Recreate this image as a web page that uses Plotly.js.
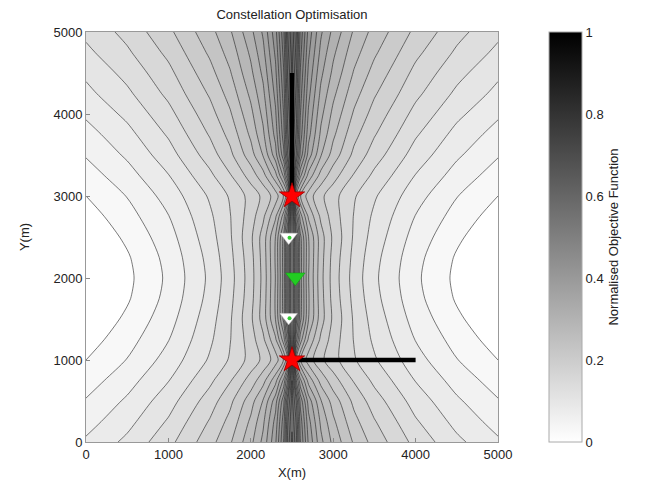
<!DOCTYPE html>
<html><head><meta charset="utf-8">
<script src="https://cdn.plot.ly/plotly-3.0.1.min.js"></script>
<style>html,body{margin:0;padding:0;background:#fff}</style>
</head><body><div id="chart" style="width:652px;height:488px"></div>
<script>
// Grid (metres)
const xGrid = [0,500,1000,1500,1750,2000,2150,2300,2400,2450,2500,2550,2600,2700,2850,3000,3250,3500,4000,4500,5000];
const yGrid = [0,250,500,750,1000,1250,1500,1750,2000,2250,2500,2750,3000,3250,3500,3750,4000,4250,4500,4750,5000];
// Normalised objective function, one row per yGrid value
const objective = [
 [0.079,0.106,0.142,0.190,0.222,0.268,0.307,0.371,0.452,0.536,0.58,0.536,0.452,0.371,0.307,0.268,0.222,0.190,0.142,0.106,0.079],
 [0.065,0.092,0.128,0.177,0.208,0.255,0.295,0.359,0.440,0.524,0.57,0.524,0.440,0.359,0.295,0.255,0.208,0.177,0.128,0.092,0.065],
 [0.052,0.079,0.114,0.162,0.194,0.239,0.277,0.339,0.419,0.501,0.56,0.501,0.419,0.339,0.277,0.239,0.194,0.162,0.114,0.079,0.052],
 [0.038,0.065,0.099,0.144,0.173,0.211,0.241,0.291,0.357,0.431,0.55,0.431,0.357,0.291,0.241,0.211,0.173,0.144,0.099,0.065,0.038],
 [0.025,0.051,0.085,0.128,0.153,0.184,0.206,0.237,0.277,0.324,0.55,0.324,0.277,0.237,0.206,0.184,0.153,0.128,0.085,0.051,0.025],
 [0.013,0.040,0.074,0.120,0.149,0.188,0.220,0.271,0.339,0.412,0.55,0.412,0.339,0.271,0.220,0.188,0.149,0.120,0.074,0.040,0.013],
 [0.003,0.030,0.065,0.114,0.147,0.195,0.236,0.301,0.383,0.466,0.55,0.466,0.383,0.301,0.236,0.195,0.147,0.114,0.065,0.030,0.003],
 [0.000,0.022,0.058,0.108,0.143,0.191,0.235,0.303,0.388,0.473,0.55,0.473,0.388,0.303,0.235,0.191,0.143,0.108,0.058,0.022,0.000],
 [0.000,0.019,0.055,0.105,0.140,0.189,0.233,0.301,0.386,0.471,0.55,0.471,0.386,0.301,0.233,0.189,0.140,0.105,0.055,0.019,0.000],
 [0.000,0.022,0.058,0.108,0.143,0.191,0.235,0.303,0.388,0.473,0.55,0.473,0.388,0.303,0.235,0.191,0.143,0.108,0.058,0.022,0.000],
 [0.003,0.030,0.065,0.114,0.147,0.195,0.236,0.301,0.383,0.466,0.55,0.466,0.383,0.301,0.236,0.195,0.147,0.114,0.065,0.030,0.003],
 [0.013,0.040,0.074,0.120,0.149,0.188,0.220,0.271,0.339,0.412,0.55,0.412,0.339,0.271,0.220,0.188,0.149,0.120,0.074,0.040,0.013],
 [0.025,0.051,0.085,0.128,0.153,0.184,0.206,0.237,0.277,0.324,0.55,0.324,0.277,0.237,0.206,0.184,0.153,0.128,0.085,0.051,0.025],
 [0.038,0.065,0.099,0.144,0.173,0.211,0.241,0.291,0.357,0.431,0.55,0.431,0.357,0.291,0.241,0.211,0.173,0.144,0.099,0.065,0.038],
 [0.052,0.079,0.114,0.162,0.194,0.239,0.277,0.339,0.419,0.501,0.56,0.501,0.419,0.339,0.277,0.239,0.194,0.162,0.114,0.079,0.052],
 [0.065,0.092,0.128,0.177,0.208,0.255,0.295,0.359,0.440,0.524,0.57,0.524,0.440,0.359,0.295,0.255,0.208,0.177,0.128,0.092,0.065],
 [0.079,0.106,0.142,0.190,0.222,0.268,0.307,0.371,0.452,0.536,0.58,0.536,0.452,0.371,0.307,0.268,0.222,0.190,0.142,0.106,0.079],
 [0.093,0.120,0.156,0.203,0.235,0.281,0.319,0.383,0.463,0.546,0.59,0.546,0.463,0.383,0.319,0.281,0.235,0.203,0.156,0.120,0.093],
 [0.105,0.133,0.168,0.216,0.248,0.294,0.331,0.394,0.474,0.557,0.60,0.557,0.474,0.394,0.331,0.294,0.248,0.216,0.168,0.133,0.105],
 [0.119,0.146,0.181,0.229,0.260,0.305,0.343,0.405,0.485,0.568,0.61,0.568,0.485,0.405,0.343,0.305,0.260,0.229,0.181,0.146,0.119],
 [0.131,0.158,0.194,0.241,0.272,0.318,0.354,0.416,0.496,0.578,0.62,0.578,0.496,0.416,0.354,0.318,0.272,0.241,0.194,0.158,0.131]
];
// Stations (red stars) and baselines (black bars)
const stationX = [2500, 2500];
const stationY = [3000, 1000];
const armVX = [2500, 2500], armVY = [3000, 4500];
const armHX = [2500, 4000], armHY = [1000, 1000];
// Candidate positions
const whiteTriX = [2460, 2460], whiteTriY = [2500, 1520];
const greenDotX = [2470, 2470], greenDotY = [2490, 1510];
const optimumX = [2540], optimumY = [2010];
const colorTicks = [0, 0.2, 0.4, 0.6, 0.8, 1];
const axisTicks = [0, 1000, 2000, 3000, 4000, 5000];

const font = {family: 'Liberation Sans, Arial, sans-serif', size: 13, color: '#222'};
const grayScale = [[0, 'rgb(255,255,255)'], [1, 'rgb(0,0,0)']];

const traces = [
  {type: 'contour', x: xGrid, y: yGrid, z: objective,
   zmin: 0, zmax: 1, autocontour: false, showscale: false,
   contours: {start: 0.025, end: 0.975, size: 0.025, coloring: 'fill', showlines: true},
   line: {color: '#222', width: 0.6, smoothing: 0.8},
   colorscale: grayScale, hoverinfo: 'skip'},
  {type: 'scatter', mode: 'markers', x: [-1000, -1000], y: [-1000, -1000], hoverinfo: 'skip', showlegend: false,
   marker: {color: [0, 1], cmin: 0, cmax: 1, colorscale: grayScale, showscale: true, size: 1,
     colorbar: {x: 1.124, xanchor: 'left', y: 0.5, yanchor: 'middle', len: 1, lenmode: 'fraction',
       thickness: 33, xpad: 0, ypad: 0, outlinewidth: 1, outlinecolor: '#aaa',
       tickvals: colorTicks, ticktext: colorTicks.map(String), ticks: '', tickfont: font,
       title: {text: 'Normalised Objective Function', side: 'right', font: font}}}},
  {type: 'scatter', mode: 'lines', x: armVX, y: armVY, line: {color: '#000', width: 4.5}, hoverinfo: 'skip', showlegend: false},
  {type: 'scatter', mode: 'lines', x: armHX, y: armHY, line: {color: '#000', width: 4.5}, hoverinfo: 'skip', showlegend: false},
  {type: 'scatter', mode: 'markers', x: whiteTriX, y: whiteTriY,
   marker: {symbol: 'triangle-down', size: 15, color: '#fff', line: {color: '#ccc', width: 0.5}}, hoverinfo: 'skip', showlegend: false},
  {type: 'scatter', mode: 'markers', x: greenDotX, y: greenDotY,
   marker: {symbol: 'circle', size: 4, color: '#33cc33'}, hoverinfo: 'skip', showlegend: false},
  {type: 'scatter', mode: 'markers', x: optimumX, y: optimumY,
   marker: {symbol: 'triangle-down', size: 17, color: '#22cc22', line: {color: '#119911', width: 0.5}}, hoverinfo: 'skip', showlegend: false},
  {type: 'scatter', mode: 'markers', x: stationX, y: stationY,
   marker: {symbol: 'star', size: 19, color: '#ff0000', line: {color: '#990000', width: 0.8}}, hoverinfo: 'skip', showlegend: false}
];

const layout = {
  width: 652, height: 488, font: font,
  paper_bgcolor: '#fff', plot_bgcolor: '#fff',
  margin: {l: 86, r: 154, t: 32, b: 46},
  showlegend: false,
  title: {text: 'Constellation Optimisation', font: font, x: 0.5, xref: 'paper', y: 1 - 14/488, yref: 'container', yanchor: 'middle'},
  xaxis: {range: [0, 5000], tickvals: axisTicks, ticks: 'inside', ticklen: 4, tickcolor: '#888',
    showline: true, linecolor: '#999', mirror: true, showgrid: false, zeroline: false,
    title: {text: 'X(m)', font: font, standoff: 7}},
  yaxis: {range: [0, 5000], tickvals: axisTicks, ticks: 'inside', ticklen: 4, tickcolor: '#888',
    showline: true, linecolor: '#999', mirror: true, showgrid: false, zeroline: false,
    title: {text: 'Y(m)', font: font, standoff: 20}}
};

Plotly.newPlot('chart', traces, layout, {staticPlot: true, displayModeBar: false});
</script></body></html>
